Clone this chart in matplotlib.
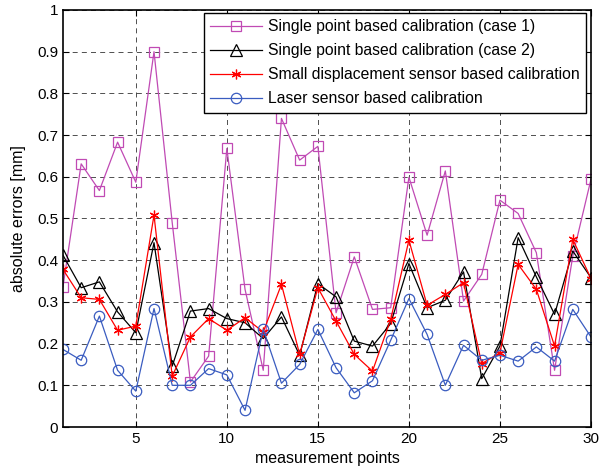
import numpy as np
import matplotlib.pyplot as plt

plt.rcParams['font.family'] = ['Liberation Sans', 'DejaVu Sans']

points = np.arange(1, 31)

# case 1 (squares, magenta)
single_case1 = [0.336, 0.631, 0.567, 0.683, 0.587, 0.900, 0.490, 0.108, 0.170, 0.668,
                0.330, 0.136, 0.740, 0.640, 0.673, 0.274, 0.408, 0.282, 0.286, 0.599,
                0.460, 0.614, 0.302, 0.366, 0.544, 0.512, 0.418, 0.136, 0.410, 0.594]
# case 2 (triangles, black)
single_case2 = [0.412, 0.334, 0.348, 0.276, 0.226, 0.442, 0.146, 0.278, 0.284, 0.260,
                0.250, 0.212, 0.264, 0.172, 0.344, 0.312, 0.206, 0.194, 0.248, 0.392,
                0.286, 0.304, 0.372, 0.116, 0.194, 0.454, 0.360, 0.270, 0.422, 0.358]
# small displacement sensor (asterisks, red)
small_disp = [0.378, 0.310, 0.306, 0.232, 0.242, 0.508, 0.122, 0.216, 0.260, 0.232,
              0.262, 0.228, 0.342, 0.174, 0.334, 0.254, 0.174, 0.134, 0.258, 0.448,
              0.292, 0.318, 0.346, 0.152, 0.178, 0.390, 0.330, 0.194, 0.450, 0.356]
# laser sensor (circles, blue)
laser = [0.186, 0.160, 0.266, 0.136, 0.086, 0.284, 0.100, 0.100, 0.140, 0.125,
         0.040, 0.234, 0.105, 0.150, 0.234, 0.142, 0.082, 0.111, 0.208, 0.308,
         0.222, 0.100, 0.196, 0.160, 0.172, 0.158, 0.192, 0.158, 0.282, 0.216]

fig = plt.figure(figsize=(6.09, 4.71), dpi=100)
ax = fig.add_axes([0.1034, 0.0934, 0.867, 0.8854])

magenta = '#c04ab4'
blue = '#3a5cc0'

ax.plot(points, single_case1, '-', color=magenta, lw=0.9, marker='s', ms=7.5,
        mfc='none', mec=magenta, mew=0.9, label='Single point based calibration (case 1)')
ax.plot(points, single_case2, '-', color='black', lw=0.9, marker='^', ms=8,
        mfc='none', mec='black', mew=0.9, label='Single point based calibration (case 2)')
ax.plot(points, small_disp, '-', color='red', lw=0.9, marker=(6, 2, 0), ms=7,
        mec='red', mew=0.9, label='Small displacement sensor based calibration')
ax.plot(points, laser, '-', color=blue, lw=0.9, marker='o', ms=7.5,
        mfc='none', mec=blue, mew=0.9, label='Laser sensor based calibration')

ax.set_xlim(1, 30)
ax.set_ylim(0, 1)
ax.set_xticks([5, 10, 15, 20, 25, 30])
ax.set_yticks(np.arange(0, 1.01, 0.1))
ax.set_yticklabels(['0', '0.1', '0.2', '0.3', '0.4', '0.5', '0.6', '0.7', '0.8', '0.9', '1'])
ax.tick_params(direction='in', top=True, right=True, labelsize=11, length=4)
ax.grid(True, color='black', linestyle=(0, (6, 5)), linewidth=0.6, alpha=0.8)
for s in ax.spines.values():
    s.set_linewidth(1.2)

ax.set_xlabel('measurement points', fontsize=11.5, labelpad=4)
ax.set_ylabel('absolute errors [mm]', fontsize=11.5, labelpad=8)

leg = ax.legend(loc='upper right', bbox_to_anchor=(0.9905, 0.993), borderaxespad=0,
                fontsize=11.3, handlelength=3.3, labelspacing=0.58, borderpad=0.4,
                handletextpad=0.4, fancybox=False, framealpha=1)
leg.get_frame().set_edgecolor('black')
leg.get_frame().set_linewidth(1.0)

fig.savefig('out.png', dpi=100)
